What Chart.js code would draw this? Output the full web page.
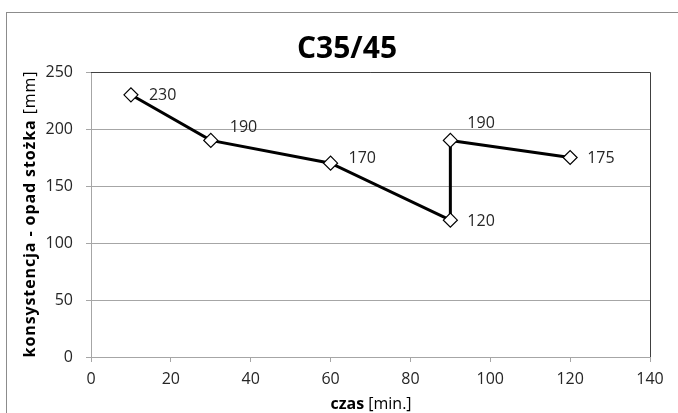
<!DOCTYPE html>
<html lang="pl">
<head>
<meta charset="UTF-8">
<title>C35/45</title>
<script src="https://cdn.jsdelivr.net/npm/chart.js"></script>
<style>
    body { margin: 0; background: #fff; }
    #chart { display: block; }
</style>
</head>
<body>
<canvas id="chart" width="678" height="413"></canvas>
<script>
// time [min] and slump [mm]
const times = [10, 30, 60, 90, 90, 120];
const slump = [230, 190, 170, 120, 190, 175];
const xTicks = [0, 20, 40, 60, 80, 100, 120, 140];
const yTicks = [0, 50, 100, 150, 200, 250];

// where each value label sits relative to its marker (px)
const labelOffsets = [[18, 1], [19, -13], [18, -5], [17, 1], [17, -17], [17, 1]];

const FONT = '"Open Sans", "DejaVu Sans", sans-serif';

const decor = {
    id: 'decor',
    beforeDraw(chart) {
        const c = chart.ctx;
        c.save();
        c.fillStyle = '#fff';
        c.fillRect(0, 0, chart.width, chart.height);
        c.strokeStyle = '#8c8c8c';
        c.lineWidth = 1;
        c.strokeRect(6.5, 12.5, chart.width + 10, chart.height + 10);
        c.restore();
    },
    afterDraw(chart) {
        const c = chart.ctx;
        const a = chart.chartArea;
        c.save();
        // plot area frame (top + right)
        c.strokeStyle = '#404040';
        c.lineWidth = 1;
        c.beginPath();
        c.moveTo(a.left, a.top + 0.5);
        c.lineTo(a.right + 0.5, a.top + 0.5);
        c.lineTo(a.right + 0.5, a.bottom);
        c.stroke();

        // title
        c.fillStyle = '#000';
        c.textAlign = 'center';
        c.textBaseline = 'middle';
        c.font = 'bold 30px ' + FONT;
        c.fillText('C35/45', 347, 49);

        // value labels
        const xs = chart.scales.x, ys = chart.scales.y;
        c.font = '16px ' + FONT;
        c.fillStyle = '#262626';
        c.textAlign = 'left';
        slump.forEach((v, i) => {
            const px = xs.getPixelForValue(times[i]);
            const py = ys.getPixelForValue(v);
            c.fillText(String(v), px + labelOffsets[i][0], py + labelOffsets[i][1]);
        });

        // axis titles, bold part + normal part
        const drawMixed = (bold, normal, cx, cy) => {
            c.font = 'bold 16px ' + FONT;
            const wb = c.measureText(bold).width;
            c.font = '16px ' + FONT;
            const wn = c.measureText(normal).width;
            let x = cx - (wb + wn) / 2;
            c.textAlign = 'left';
            c.font = 'bold 16px ' + FONT;
            c.fillText(bold, x, cy);
            c.font = '16px ' + FONT;
            c.fillText(normal, x + wb, cy);
        };
        c.fillStyle = '#000';
        drawMixed('czas', ' [min.]', 371, 404);
        c.translate(30, 214);
        c.rotate(-Math.PI / 2);
        c.letterSpacing = '0.9px';
        drawMixed('konsystencja - opad stożka', ' [mm]', 0, 0);
        c.restore();
    }
};

new Chart(document.getElementById('chart'), {
    type: 'line',
    data: {
        datasets: [{
            data: times.map((t, i) => ({ x: t, y: slump[i] })),
            borderColor: '#000',
            borderWidth: 3,
            pointStyle: 'rectRot',
            pointRadius: 7,
            pointBackgroundColor: '#fff',
            pointBorderColor: '#000',
            pointBorderWidth: 1.2,
            tension: 0
        }]
    },
    options: {
        responsive: false,
        animation: false,
        layout: { padding: { left: 8, top: 72, right: 28, bottom: 0 } },
        plugins: { legend: { display: false }, tooltip: { enabled: false } },
        scales: {
            x: {
                type: 'linear',
                min: 0, max: 140,
                afterBuildTicks: s => { s.ticks = xTicks.map(v => ({ value: v })); },
                afterFit: s => { s.height = 56; },
                grid: { drawOnChartArea: false, drawTicks: true, tickLength: 5, color: '#a6a6a6' },
                border: { color: '#a6a6a6' },
                ticks: { color: '#262626', font: { family: FONT, size: 16 }, padding: 8, maxRotation: 0 }
            },
            y: {
                min: 0, max: 250,
                afterBuildTicks: s => { s.ticks = yTicks.map(v => ({ value: v })); },
                afterFit: s => { s.width = 83; },
                grid: { color: '#a6a6a6', drawTicks: true, tickLength: 5 },
                border: { color: '#a6a6a6' },
                ticks: { color: '#262626', font: { family: FONT, size: 16 }, padding: 13 }
            }
        }
    },
    plugins: [decor]
});
</script>
</body>
</html>
